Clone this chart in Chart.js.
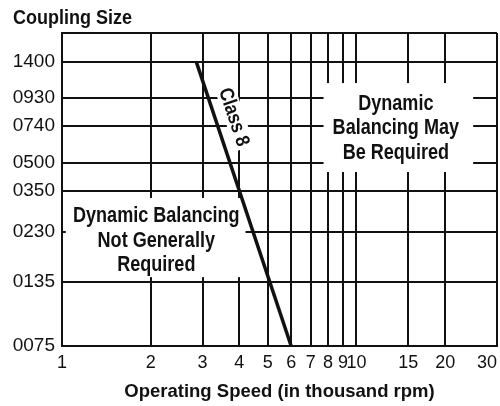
<!DOCTYPE html>
<html>
<head>
<meta charset="utf-8">
<script src="https://cdn.jsdelivr.net/npm/chart.js@4"></script>
<style>
  body { margin: 0; background: #fff; }
</style>
</head>
<body>
<canvas id="balanceChart" width="500" height="406"></canvas>
<script>
// ------
// data
// ------
const sizeLabels = ['0075', '0135', '0230', '0350', '0500', '0740', '0930', '1400'];
const sizeAxis = [0, 20.4, 36.4, 49.5, 58.5, 70.3, 79.2, 90.7]; // where each size sits on the vertical scale (0-100)
const speedTicks = [1, 2, 3, 4, 5, 6, 7, 8, 9, 10, 15, 20, 30];
const class8Speed = [2.86, 6];
const class8Size = ['1400', '0075'];

const noteLeft = ['Dynamic Balancing', 'Not Generally', 'Required'];
const noteRight = ['Dynamic', 'Balancing May', 'Be Required'];

const sizeValue = (label) => sizeAxis[sizeLabels.indexOf(label)];
const ink = '#111';
const font = "'Liberation Sans', Arial, sans-serif";

// text boxes in data units: [speedMin, speedMax, scaleMin, scaleMax], centre [speed, scale]
const notes = [
  { lines: noteLeft, box: [1.03, 4.2, 22.0, 47.3], at: [2.09, 33.6] },
  { lines: noteRight, box: [7.73, 24.9, 55.6, 84.0], at: [13.6, 69.5] },
];
const classLabel = { text: 'Class 8', at: [3.85, 73.2] };

// narrow bold text, squeezed sideways to look like the condensed face of the original
function narrowText(ctx, text, x, y, size, squeeze) {
  ctx.save();
  ctx.translate(x, y);
  ctx.scale(squeeze, 1);
  ctx.font = 'bold ' + size + 'px ' + font;
  ctx.fillText(text, 0, 0);
  ctx.restore();
}

const notesPlugin = {
  id: 'notes',
  beforeDatasetsDraw(chart) {
    const { ctx, scales: { x, y } } = chart;
    ctx.save();
    ctx.fillStyle = '#fff';
    notes.forEach((n) => {
      const l = x.getPixelForValue(n.box[0]);
      const r = x.getPixelForValue(n.box[1]);
      const t = y.getPixelForValue(n.box[3]);
      const b = y.getPixelForValue(n.box[2]);
      ctx.fillRect(l, t, r - l, b - t);
    });
    ctx.restore();
  },
  afterDatasetsDraw(chart) {
    const { ctx, scales: { x, y } } = chart;
    ctx.save();
    ctx.fillStyle = ink;
    ctx.textAlign = 'center';
    ctx.textBaseline = 'middle';
    notes.forEach((n) => {
      const cx = x.getPixelForValue(n.at[0]);
      const cy = y.getPixelForValue(n.at[1]);
      n.lines.forEach((line, i) => {
        narrowText(ctx, line, cx, cy + (i - 1) * 24.5, 21.5, 0.84);
      });
    });

    // Class 8 label follows the line
    const x0 = x.getPixelForValue(class8Speed[0]);
    const y0 = y.getPixelForValue(sizeValue(class8Size[0]));
    const x1 = x.getPixelForValue(class8Speed[1]);
    const y1 = y.getPixelForValue(sizeValue(class8Size[1]));
    const angle = Math.atan2(y1 - y0, x1 - x0);
    ctx.translate(x.getPixelForValue(classLabel.at[0]), y.getPixelForValue(classLabel.at[1]));
    ctx.rotate(angle);
    ctx.font = 'bold 20px ' + font;
    const w = ctx.measureText(classLabel.text).width * 0.86;
    ctx.fillStyle = '#fff';
    ctx.fillRect(-w / 2 - 3, -10, w + 6, 20);
    ctx.fillStyle = ink;
    narrowText(ctx, classLabel.text, 0, 1, 20, 0.86);
    ctx.restore();
  },
  afterDraw(chart) {
    const { ctx } = chart;
    ctx.save();
    ctx.fillStyle = ink;
    ctx.textAlign = 'left';
    ctx.textBaseline = 'alphabetic';
    narrowText(ctx, 'Coupling Size', 13, 24, 20, 0.9);
    ctx.restore();
  },
};

// ------
// Chart balancing
// ------
const balanceChart = document.getElementById('balanceChart');
new Chart(balanceChart, {
  type: 'line',
  data: {
    datasets: [
      {
        label: 'Class 8',
        data: class8Speed.map((s, i) => ({ x: s, y: sizeValue(class8Size[i]) })),
        borderColor: ink,
        borderWidth: 3.5,
        pointRadius: 0,
        fill: false,
      },
    ],
  },
  options: {
    responsive: false,
    animation: false,
    layout: {
      padding: { top: 33, right: 3, left: 0, bottom: 0 },
    },
    plugins: {
      legend: { display: false },
      tooltip: { enabled: false },
    },
    scales: {
      x: {
        type: 'logarithmic',
        min: 1,
        max: 30,
        afterBuildTicks: (scale) => {
          scale.ticks = speedTicks.map((v) => ({ value: v }));
        },
        afterFit: (scale) => {
          scale.height = 60;
          scale.paddingLeft = 0;
          scale.paddingRight = 0;
        },
        grid: { color: ink, lineWidth: 2, drawTicks: false },
        border: { color: ink, width: 2 },
        ticks: {
          autoSkip: false,
          maxRotation: 0,
          padding: 6,
          color: ink,
          font: { family: font, size: 18 },
          callback: (v) => (v === 30 ? '30\u2007\u2007' : String(v)),
        },
        title: {
          display: true,
          text: 'Operating Speed (in thousand rpm)',
          color: ink,
          font: { family: font, size: 18.5, weight: 'bold' },
          padding: { top: 0, bottom: 3 },
        },
      },
      y: {
        type: 'linear',
        min: 0,
        max: 100,
        afterBuildTicks: (scale) => {
          scale.ticks = sizeAxis.concat([100]).map((v) => ({ value: v }));
        },
        afterFit: (scale) => {
          scale.width = 62;
          scale.paddingTop = 0;
          scale.paddingBottom = 0;
        },
        grid: { color: ink, lineWidth: 2, drawTicks: false },
        border: { color: ink, width: 2 },
        ticks: {
          autoSkip: false,
          padding: 7,
          color: ink,
          font: { family: font, size: 19 },
          callback: (v) => {
            const i = sizeAxis.indexOf(v);
            return i >= 0 ? sizeLabels[i] : '';
          },
        },
      },
    },
  },
  plugins: [notesPlugin],
});
// ------
// end Chart balancing
// ------
</script>
</body>
</html>
